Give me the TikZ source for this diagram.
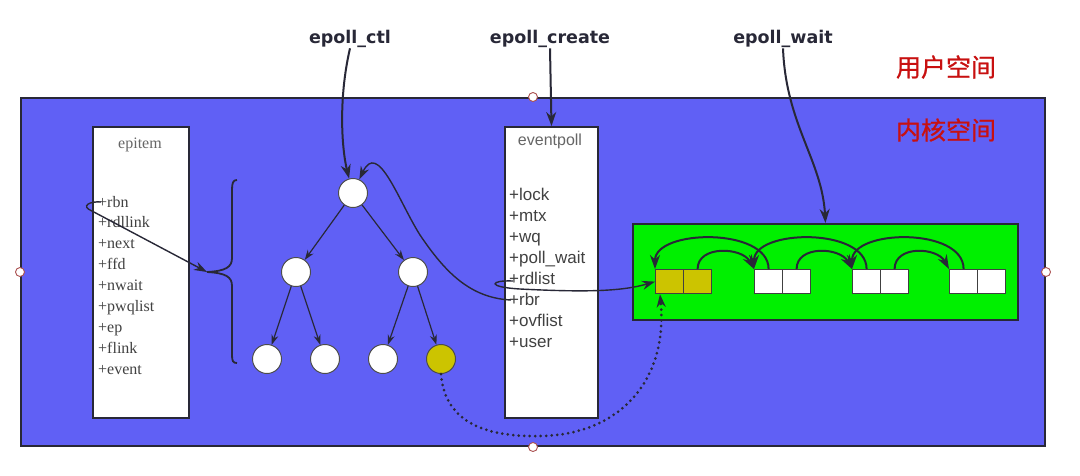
\documentclass[tikz,border=0pt]{standalone}
\usepackage{fontspec}
\setmainfont{Liberation Serif}
\newfontfamily\sansf{Liberation Sans}
\newfontfamily\labf{DejaVu Sans}
\newfontfamily\cjk[FakeBold=0.8]{Noto Sans CJK SC}
\usetikzlibrary{arrows.meta}
\definecolor{kblue}{RGB}{96,96,245}
\definecolor{kgreen}{RGB}{0,240,0}
\definecolor{kyel}{RGB}{204,196,0}
\definecolor{kline}{RGB}{40,40,55}
\definecolor{kred}{RGB}{200,16,16}
\definecolor{ktext}{RGB}{65,65,65}
\definecolor{khandle}{RGB}{170,80,80}
\begin{document}
\begin{tikzpicture}[x=1pt,y=-1pt,
  box/.style={draw=kline,line width=2pt,fill=white,inner sep=0pt,anchor=north west},
  handle/.style={circle,draw=khandle,fill=white,line width=0.9pt,minimum size=9pt,inner sep=0pt},
  tnode/.style={circle,draw=gray!60!black,fill=white,line width=1pt,minimum size=29pt,inner sep=0pt},
  cell/.style={draw=gray!50!black,line width=1.2pt,fill=white,minimum width=28pt,minimum height=24pt,inner sep=0pt,anchor=north west},
  serifitem/.style={anchor=base west,inner sep=0pt,text=ktext,font=\fontsize{16}{18}\selectfont},
  sansitem/.style={anchor=base west,inner sep=0pt,text=ktext,font=\sansf\fontsize{17}{19}\selectfont},
  calllabel/.style={anchor=base,inner sep=1pt,text=kline,font=\labf\bfseries\fontsize{17.5}{20}\selectfont},
  cjklabel/.style={inner sep=0pt,text=kred,font=\cjk\fontsize{25}{28}\selectfont},
  arr/.style={draw=kline,line width=2pt,-{Stealth[length=14pt,width=10pt]}},
  tarr/.style={draw=kline,line width=1.2pt,-{Stealth[length=10pt,width=7pt]}},
  thin arr/.style={draw=kline,line width=1.4pt,-{Stealth[length=13pt,width=9pt]}},
  dotarr/.style={draw=kline,line width=3pt,line cap=round,dash pattern=on 0pt off 5.5pt,-{Stealth[length=13pt,width=9pt]}}]
\useasboundingbox (0,0) rectangle (1080,475);
\fill[white] (0,0) rectangle (1080,475);

% kernel space
\node[box,fill=kblue,minimum width=1024pt,minimum height=348pt] (kernel) at (20,97) {};
\node[handle] (hn) at (kernel.north) {};
\node[handle] (hs) at (kernel.south) {};
\node[handle] (hw) at (kernel.west) {};
\node[handle] (he) at (kernel.east) {};

% labels
\node[cjklabel] (user) at (946,67) {用户空间};
\node[cjklabel] (kern) at (946,130) {内核空间};
\node[calllabel] (lctl) at (350,43) {epoll\_ctl};
\node[calllabel] (lcreate) at (550,43) {epoll\_create};
\node[calllabel] (lwait) at (783,43) {epoll\_wait};

% epitem
\node[box,minimum width=96pt,minimum height=291pt] (epitem) at (92,126) {};
\node[anchor=base,inner sep=0pt,text=gray!80!black,font=\fontsize{16}{18}\selectfont] (eititle) at (140,148) {epitem};
\node[serifitem] (ei1) at (98,207.0) {+rbn};
\node[serifitem] (ei2) at (98,227.9) {+rdllink};
\node[serifitem] (ei3) at (98,248.8) {+next};
\node[serifitem] (ei4) at (98,269.7) {+ffd};
\node[serifitem] (ei5) at (98,290.6) {+nwait};
\node[serifitem] (ei6) at (98,311.5) {+pwqlist};
\node[serifitem] (ei7) at (98,332.4) {+ep};
\node[serifitem] (ei8) at (98,353.3) {+flink};
\node[serifitem] (ei9) at (98,374.2) {+event};

% eventpoll
\node[box,minimum width=93pt,minimum height=291pt] (eventpoll) at (504,126) {};
\node[anchor=base,inner sep=0pt,text=gray!80!black,font=\sansf\fontsize{16}{18}\selectfont] (eptitle) at (550,145) {eventpoll};
\node[sansitem] (ep1) at (509,200) {+lock};
\node[sansitem] (ep2) at (509,221) {+mtx};
\node[sansitem] (ep3) at (509,242) {+wq};
\node[sansitem] (ep4) at (509,263) {+poll\_wait};
\node[sansitem] (ep5) at (509,284) {+rdlist};
\node[sansitem] (ep6) at (509,305) {+rbr};
\node[sansitem] (ep7) at (509,326) {+ovflist};
\node[sansitem] (ep8) at (509,347) {+user};

% brace
\draw[kline,line width=1.8pt] (237,180) .. controls (233,180) and (232,183) .. (232,190) -- (232,258)
  .. controls (232,267) and (226,271) .. (207,272) .. controls (226,273) and (232,277) .. (232,286)
  -- (232,355) .. controls (232,361) and (233,363) .. (237,363);
\coordinate (bt) at (207,272);

% tree
\node[tnode] (root) at (353,193) {};
\node[tnode] (a) at (296,272) {};
\node[tnode] (b) at (413,272) {};
\node[tnode] (c) at (267,359) {};
\node[tnode] (d) at (325,359) {};
\node[tnode] (e) at (383,359) {};
\node[tnode,fill=kyel] (f) at (441,359) {};
\draw[tarr] (root) -- (a);
\draw[tarr] (root) -- (b);
\draw[tarr] (a) -- (c);
\draw[tarr] (a) -- (d);
\draw[tarr] (b) -- (e);
\draw[tarr] (b) -- (f);

% ready list
\node[box,fill=kgreen,minimum width=385pt,minimum height=96pt] (green) at (632,223) {};
\node[cell,fill=kyel] (l1a) at (655,269) {};
\node[cell,fill=kyel] (l1b) at (683,269) {};
\node[cell] (l2a) at (754,269) {};
\node[cell] (l2b) at (782,269) {};
\node[cell] (l3a) at (852,269) {};
\node[cell] (l3b) at (880,269) {};
\node[cell] (l4a) at (949,269) {};
\node[cell] (l4b) at (977,269) {};
\foreach \i/\j in {1/2,2/3,3/4}{
  \draw[arr] (l\i b.north) .. controls ([yshift=24pt]l\i b.north) and ([xshift=-12pt,yshift=22pt]l\j a.north west) .. (l\j a.north west);
  \draw[arr] (l\j a.north) .. controls ([yshift=42pt]l\j a.north) and ([xshift=0pt,yshift=40pt]l\i a.north west) .. (l\i a.north west);
}

% calls
\draw[arr] (lctl.south) .. controls (338,100) and (342,150) .. (root.105);
\draw[arr] (lcreate.south) -- (eventpoll.north);
\draw[arr] (lwait.south) .. controls (786,125) and (822,160) .. (green.north);

% epitem rbn -> brace
\draw[thin arr] (101,202) .. controls (90,201) and (80,206) .. (92,211) -- (bt);
% rbr -> root
\draw[thin arr] (511,300) .. controls (470,298) and (445,272) .. (420,235) .. controls (398,200) and (378,140) .. (root.65);
% rdlist -> ready list
\draw[thin arr] (513,281) .. controls (490,280) and (486,287) .. (520,289) .. controls (580,292) and (620,292) .. (l1a.west);
% yellow tree node -> ready list
\draw[dotarr] (f.south) .. controls (445,425) and (490,437) .. (540,436) .. controls (620,435) and (668,380) .. ([xshift=5pt]l1a.south west);
\end{tikzpicture}
\end{document}
